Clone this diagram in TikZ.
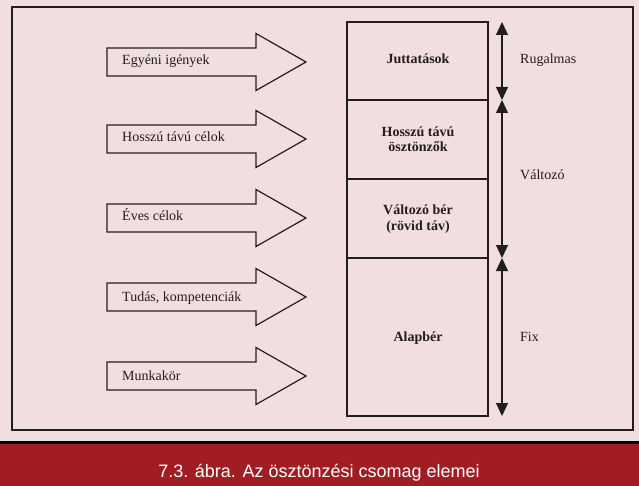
\documentclass[tikz,border=0pt]{standalone}
\usepackage{fontspec}
\setmainfont{Liberation Serif}
\newfontfamily\capfont{Liberation Sans}
\usepackage{tikz}
\usetikzlibrary{arrows.meta}
\usepackage{xcolor}
\definecolor{bgpink}{RGB}{241,222,225}
\definecolor{capred}{RGB}{161,29,36}
\definecolor{inkdark}{RGB}{35,30,30}

\begin{document}
\begin{tikzpicture}[x=1bp,y=-1bp,
  every node/.style={font=\fontsize{14bp}{15.5bp}\selectfont, text=inkdark, inner sep=0pt},
  boxtxt/.style={font=\fontsize{14bp}{15.5bp}\selectfont\bfseries, align=center},
  bigarrow/.style={draw=inkdark, line width=1.2bp, fill=bgpink, line join=miter},
  part/.style={draw=inkdark, line width=1.2bp},
  span/.style={draw=inkdark, line width=1.2bp, {Triangle[length=13bp,width=12bp]}-{Triangle[length=13bp,width=12bp]}}]
\useasboundingbox (0,0) rectangle (639,486);
\fill[bgpink] (0,0) rectangle (639,441);
\fill[black] (0,441) rectangle (639,444);
\fill[capred] (0,444) rectangle (639,486);
\draw[inkdark, line width=2bp] (12,7) rectangle (633,430);
% input arrows
\draw[bigarrow] (107,48) -- (256,48) -- (256,33.5) -- (306,62) -- (256,90.5) -- (256,76) -- (107,76) -- cycle;
\node[anchor=base west] (igeny) at (122,65) {Egyéni igények};
\draw[bigarrow] (107,125) -- (256,125) -- (256,110.5) -- (306,139) -- (256,167.5) -- (256,153) -- (107,153) -- cycle;
\node[anchor=base west] (celok) at (122,142) {Hosszú távú célok};
\draw[bigarrow] (107,204) -- (256,204) -- (256,189.5) -- (306,218) -- (256,246.5) -- (256,232) -- (107,232) -- cycle;
\node[anchor=base west] (eves) at (122,221) {Éves célok};
\draw[bigarrow] (107,283) -- (256,283) -- (256,268.5) -- (306,297) -- (256,325.5) -- (256,311) -- (107,311) -- cycle;
\node[anchor=base west] (tudas) at (122,301) {Tudás, kompetenciák};
\draw[bigarrow] (107,362) -- (256,362) -- (256,347.5) -- (306,376) -- (256,404.5) -- (256,390) -- (107,390) -- cycle;
\node[anchor=base west] (munka) at (122,380) {Munkakör};
% pay package stack
\draw[part] (347,22) rectangle (488,416);
\draw[part] (347,100) -- (488,100);
\draw[part] (347,179) -- (488,179);
\draw[part] (347,258) -- (488,258);
\node[boxtxt, anchor=base] (jutt) at (418,64) {Juttatások};
\node[boxtxt] (hosszu) at (418,139) {Hosszú távú\\ösztönzők};
\node[boxtxt] (valtber) at (418,219) {Változó bér\\(rövid táv)};
\node[boxtxt, anchor=base] (alap) at (418,341) {Alapbér};
% ranges
\coordinate (s0) at (502,22);
\coordinate (s1) at (502,100);
\coordinate (s2) at (502,258);
\coordinate (s3) at (502,416);
\draw[span] (s0) -- (s1);
\draw[span] (s1) -- (s2);
\draw[span] (s2) -- (s3);
\node[anchor=base west] (rugalmas) at (520,63.5) {Rugalmas};
\node[anchor=base west] (valtozo) at (520,180) {Változó};
\node[anchor=base west] (fix) at (520,341) {Fix};
% caption
\node[font=\capfont\fontsize{18bp}{20bp}\selectfont, text=white, anchor=base] (caption) at (319,477) {7.3. ábra. Az ösztönzési csomag elemei};
\end{tikzpicture}
\end{document}
